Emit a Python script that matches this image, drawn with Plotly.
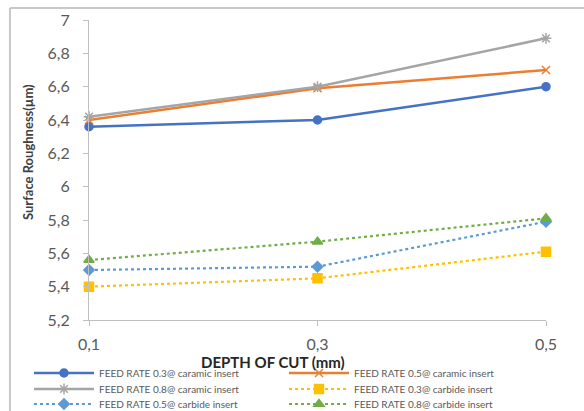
import plotly.graph_objects as go

depth = ["0,1", "0,3", "0,5"]
names = [
    "FEED RATE 0.3@ caramic insert",
    "FEED RATE 0.5@ caramic insert",
    "FEED RATE 0.8@ caramic insert",
    "FEED RATE 0.3@ carbide insert",
    "FEED RATE 0.5@ carbide insert",
    "FEED RATE 0.8@ carbide insert",
]
cer_03 = [6.36, 6.40, 6.60]
cer_05 = [6.40, 6.59, 6.70]
cer_08 = [6.42, 6.60, 6.89]
car_03 = [5.40, 5.45, 5.61]
car_05 = [5.50, 5.52, 5.79]
car_08 = [5.56, 5.67, 5.81]

series = [cer_03, cer_05, cer_08, car_03, car_05, car_08]
colors = ["#4472C4", "#ED7D31", "#A5A5A5", "#FFC000", "#5B9BD5", "#70AD47"]
dashes = ["solid", "solid", "solid", "dot", "dot", "dot"]
symbols = ["circle", "x-thin-open", "asterisk-open", "square", "diamond", "triangle-up"]
sizes = [8, 8, 9, 9, 8, 9]
legend_ids = ["legend", "legend2", "legend3", "legend4", "legend5", "legend6"]

fig = go.Figure()
for name, vals, c, d, s, sz, lg in zip(names, series, colors, dashes, symbols, sizes, legend_ids):
    fig.add_trace(go.Scatter(
        x=depth, y=vals, name=name, mode="lines+markers", legend=lg,
        line=dict(color=c, width=2.5 if d == "solid" else 2.2, dash=d),
        marker=dict(symbol=s, size=sz, color=c, line=dict(color=c, width=1.5)),
        cliponaxis=False,
    ))

# legend placement: two columns, three rows (pixel positions in the 584x411 frame)
col_px = [29, 284]
row_px = [373, 389, 404]

def leg(i):
    xp = (col_px[i % 2] - 89) / 457
    yp = 1 - (row_px[i // 2] - 20) / 300
    return dict(
        orientation="h", x=xp, xanchor="left", y=yp, yanchor="middle",
        itemwidth=60, font=dict(size=10, color="#595959"),
        bgcolor="rgba(0,0,0,0)", borderwidth=0,
    )

fig.update_layout(
    width=584, height=411,
    margin=dict(l=89, r=38, t=20, b=91, autoexpand=False),
    paper_bgcolor="white", plot_bgcolor="white",
    separators=",.",
    font=dict(family="Lato, Open Sans, sans-serif", color="#595959"),
    showlegend=True,
    xaxis=dict(
        type="category", range=[0, 2], showgrid=False,
        showline=True, linecolor="#BFBFBF", linewidth=1,
        ticks="outside", ticklen=5, tickcolor="#BFBFBF",
        ticklabelstandoff=5,
        tickfont=dict(size=16, color="#595959"),
    ),
    yaxis=dict(
        range=[5.2, 7], tick0=5.2, dtick=0.2, showgrid=False, zeroline=False,
        showline=True, linecolor="#BFBFBF", linewidth=1,
        ticks="outside", ticklen=5, tickcolor="#BFBFBF",
        ticklabelstandoff=10,
        tickfont=dict(size=16, color="#595959"),
    ),
    annotations=[
        dict(text="<b>DEPTH OF CUT (mm)</b>", xref="paper", yref="paper",
             x=(273 - 89) / 457, y=1 - (362 - 20) / 300, xanchor="center", yanchor="middle",
             showarrow=False, font=dict(size=15, color="#262626")),
        dict(text="<b>Surface Roughness(µm)</b>", xref="paper", yref="paper",
             x=(28 - 89) / 457, y=1 - (152 - 20) / 300, xanchor="center", yanchor="middle",
             textangle=-90, showarrow=False, font=dict(size=13, color="#404040")),
    ],
    shapes=[
        dict(type="line", xref="paper", yref="paper", x0=-0.173, x1=1.1, y0=1.04, y1=1.04,
             line=dict(color="#C8C8C8", width=2)),
        dict(type="line", xref="paper", yref="paper", x0=-0.173, x1=-0.173, y0=1.04, y1=-0.31,
             line=dict(color="#C8C8C8", width=2)),
    ],
)
for i, lg in enumerate(legend_ids):
    fig.layout[lg] = leg(i)

fig.write_html("out.html")
